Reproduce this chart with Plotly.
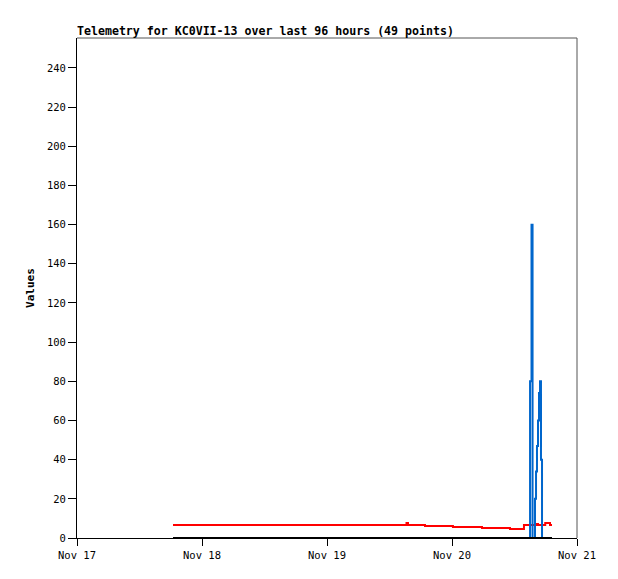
import plotly.graph_objects as go

# Timestamps of the 49 telemetry points
times = [
    "2023-11-17 18:26", "2023-11-17 20:30", "2023-11-17 23:00", "2023-11-18 01:30",
    "2023-11-18 04:00", "2023-11-18 06:30", "2023-11-18 09:00", "2023-11-18 11:30",
    "2023-11-18 14:00", "2023-11-18 16:30", "2023-11-18 19:00", "2023-11-18 21:30",
    "2023-11-19 00:00", "2023-11-19 02:30", "2023-11-19 05:00", "2023-11-19 07:30",
    "2023-11-19 10:00", "2023-11-19 12:30", "2023-11-19 13:48", "2023-11-19 15:16",
    "2023-11-19 15:33", "2023-11-19 18:49", "2023-11-19 21:30", "2023-11-20 00:11",
    "2023-11-20 03:00", "2023-11-20 05:46", "2023-11-20 08:30", "2023-11-20 11:08",
    "2023-11-20 13:49", "2023-11-20 14:59", "2023-11-20 15:16", "2023-11-20 15:28",
    "2023-11-20 15:56", "2023-11-20 16:08", "2023-11-20 16:19", "2023-11-20 16:31",
    "2023-11-20 16:42", "2023-11-20 16:54", "2023-11-20 17:05", "2023-11-20 17:17",
    "2023-11-20 17:30", "2023-11-20 17:42", "2023-11-20 17:54", "2023-11-20 18:06",
    "2023-11-20 18:18", "2023-11-20 18:33", "2023-11-20 18:49", "2023-11-20 19:00",
    "2023-11-20 19:12",
]

red_values = [
    6.6, 6.6, 6.6, 6.6, 6.6, 6.6, 6.6, 6.6, 6.6, 6.6,
    6.6, 6.6, 6.6, 6.6, 6.6, 6.6, 6.6, 6.6, 6.6, 7.6,
    6.6, 6.1, 6.1, 5.6, 5.6, 5.1, 5.1, 4.6, 6.6, 6.6,
    6.6, 6.6, 6.6, 7.1, 7.1, 6.6, 6.6, 6.6, 6.6, 6.6,
    6.6, 6.6, 7.6, 7.6, 7.6, 7.6, 6.6, 6.6, 6.6,
]

blue_values = [
    0, 0, 0, 0, 0, 0, 0, 0, 0, 0,
    0, 0, 0, 0, 0, 0, 0, 0, 0, 0,
    0, 0, 0, 0, 0, 0, 0, 0, 0, 80,
    160, 0, 20, 34, 47, 60, 74, 80, 40, 0,
    0, 0, 0, 0, 0, 0, 0, 0, 0,
]

black_values = [0] * 49

tick_dates = ["2023-11-17", "2023-11-18", "2023-11-19", "2023-11-20", "2023-11-21"]
tick_labels = ["Nov 17", "Nov 18", "Nov 19", "Nov 20", "Nov 21"]
y_ticks = list(range(0, 241, 20))

title_text = "Telemetry for KC0VII-13 over last 96 hours (49 points)"

FONT = "DejaVu Sans Mono"

# page body has an 8px margin, so the figure is sized to fit the window
W, H = 610, 571

fig = go.Figure()
fig.add_trace(go.Scatter(x=times, y=red_values, mode="lines", line=dict(color="#ff0000", width=2, shape="hv"),
                         showlegend=False, hoverinfo="skip"))
fig.add_trace(go.Scatter(x=times, y=blue_values, mode="lines", line=dict(color="#0066cc", width=2, shape="hv"),
                         showlegend=False, hoverinfo="skip"))
fig.add_trace(go.Scatter(x=times, y=black_values, mode="lines", line=dict(color="#000000", width=2, shape="hv"),
                         showlegend=False, hoverinfo="skip"))

fig.update_layout(
    width=W, height=H,
    margin=dict(l=69, r=41, t=30, b=41),
    paper_bgcolor="white", plot_bgcolor="white",
    title=dict(text=title_text, x=0, xref="paper", xanchor="left",
               y=1 - 23 / H, yref="container", yanchor="middle",
               font=dict(family=FONT, size=11.6, color="black", weight="bold")),
    font=dict(family=FONT, size=10, color="black"),
)

fig.update_xaxes(
    type="date", range=[tick_dates[0], tick_dates[-1]],
    tickvals=tick_dates, ticktext=tick_labels,
    ticks="outside", ticklen=7, tickcolor="black", tickwidth=1,
    showline=True, linecolor="black", linewidth=1,
    showgrid=False, zeroline=False,
    tickfont=dict(family=FONT, size=10.5, color="black"),
)
fig.update_yaxes(
    range=[0, 255.3], tickvals=y_ticks,
    ticks="outside", ticklen=8, tickcolor="black", tickwidth=1,
    showline=True, linecolor="black", linewidth=1,
    showgrid=False, zeroline=False,
    tickfont=dict(family=FONT, size=10.5, color="black"),
    title=dict(text="<b>Values</b>", standoff=10, font=dict(family=FONT, size=11, color="black")),
)

# frame (top and right edges)
fig.add_shape(type="line", xref="paper", yref="paper", x0=0, x1=1, y0=1, y1=1,
              line=dict(color="#555555", width=1))
fig.add_shape(type="line", xref="paper", yref="paper", x0=1, x1=1, y0=0, y1=1,
              line=dict(color="#555555", width=1))

fig.write_html("out.html")
